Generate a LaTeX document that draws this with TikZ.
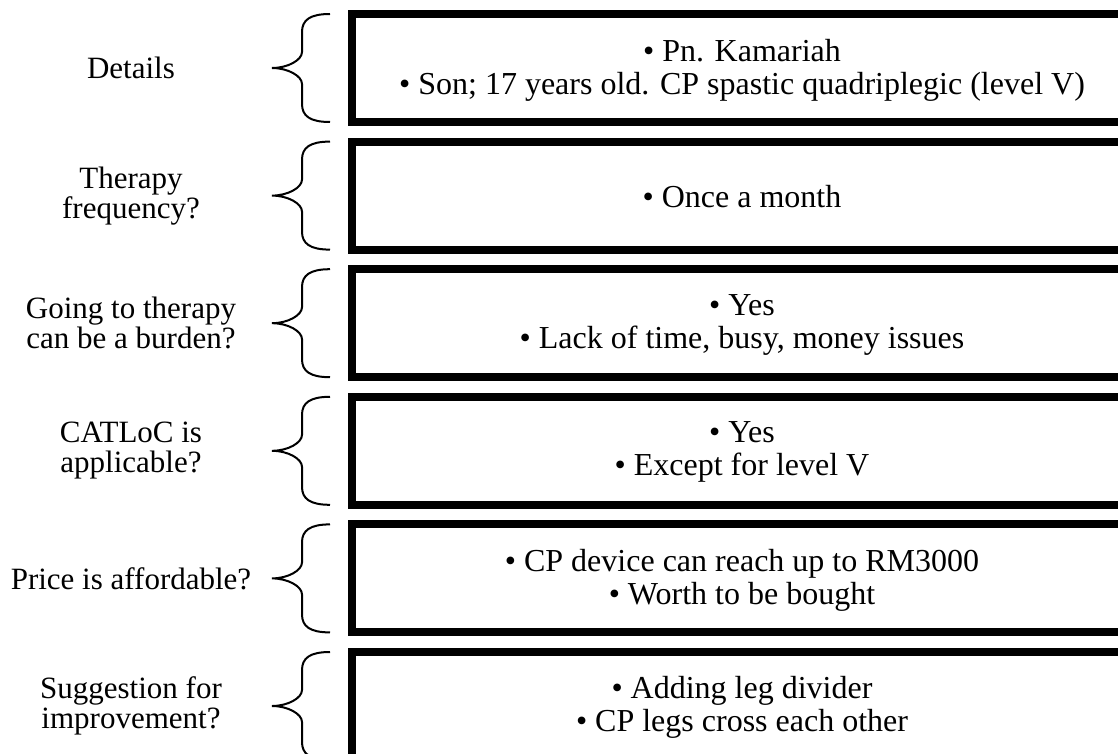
\documentclass[tikz,border=0pt]{standalone}
\usepackage{fontspec}
\setmainfont{Liberation Serif}
\usetikzlibrary{calc}
\newcommand{\rowbrace}[1]{\draw[bracket]
	($(#1.north west)+(-22,0)$) .. controls ($(#1.north west)+(-42,0)$) and ($(#1.north west)+(-50,6)$) .. ($(#1.north west)+(-50,18)$)
	-- ($(#1.west)+(-50,-16)$) .. controls ($(#1.west)+(-50,-8)$) and ($(#1.west)+(-64,0)$) .. ($(#1.west)+(-80,0)$)
	.. controls ($(#1.west)+(-64,0)$) and ($(#1.west)+(-50,8)$) .. ($(#1.west)+(-50,16)$)
	-- ($(#1.south west)+(-50,-18)$) .. controls ($(#1.south west)+(-50,-6)$) and ($(#1.south west)+(-42,0)$) .. ($(#1.south west)+(-22,0)$);}

\begin{document}
\begin{tikzpicture}[x=1pt, y=-1pt,
	question/.style={align=center, font=\fontsize{31}{30}\selectfont},
	answer/.style={align=center, font=\fontsize{32}{33}\selectfont},
	ansbox/.style={draw, line width=8pt, minimum width=780pt, minimum height=108pt, outer sep=0pt},
	bracket/.style={line width=2pt}]
	\useasboundingbox (0,0) rectangle (1118,754);
	
	\node[ansbox] (box1) at (742,68) {};
	\node[ansbox] (box2) at (742,195.6) {};
	\node[ansbox] (box3) at (742,323.2) {};
	\node[ansbox] (box4) at (742,450.8) {};
	\node[ansbox] (box5) at (742,578.4) {};
	\node[ansbox] (box6) at (742,706) {};
	
	\node[question] (q1) at (131,68) {Details};
	\node[question] (q2) at (131,195.6) {Therapy\\frequency?};
	\node[question] (q3) at (131,323.2) {Going to therapy\\can be a burden?};
	\node[question] (q4) at (131,450.8) {CATLoC is\\applicable?};
	\node[question] (q5) at (131,578.4) {Price is affordable?};
	\node[question] (q6) at (131,706) {Suggestion for\\improvement?};
	
	\node[answer] (ans1) at (742,70) {• Pn. Kamariah\\• Son; 17 years old. CP spastic quadriplegic (level V)};
	\node[answer] (ans2) at (742,197) {• Once a month};
	\node[answer] (ans3) at (742,325) {• Yes\\• Lack of time, busy, money issues};
	\node[answer] (ans4) at (742,452) {• Yes\\• Except for level V};
	\node[answer] (ans5) at (742,580) {• CP device can reach up to RM3000\\• Worth to be bought};
	\node[answer] (ans6) at (742,707) {• Adding leg divider\\• CP legs cross each other};
	
	\rowbrace{box1}
	\rowbrace{box2}
	\rowbrace{box3}
	\rowbrace{box4}
	\rowbrace{box5}
	\rowbrace{box6}
\end{tikzpicture}
\end{document}
